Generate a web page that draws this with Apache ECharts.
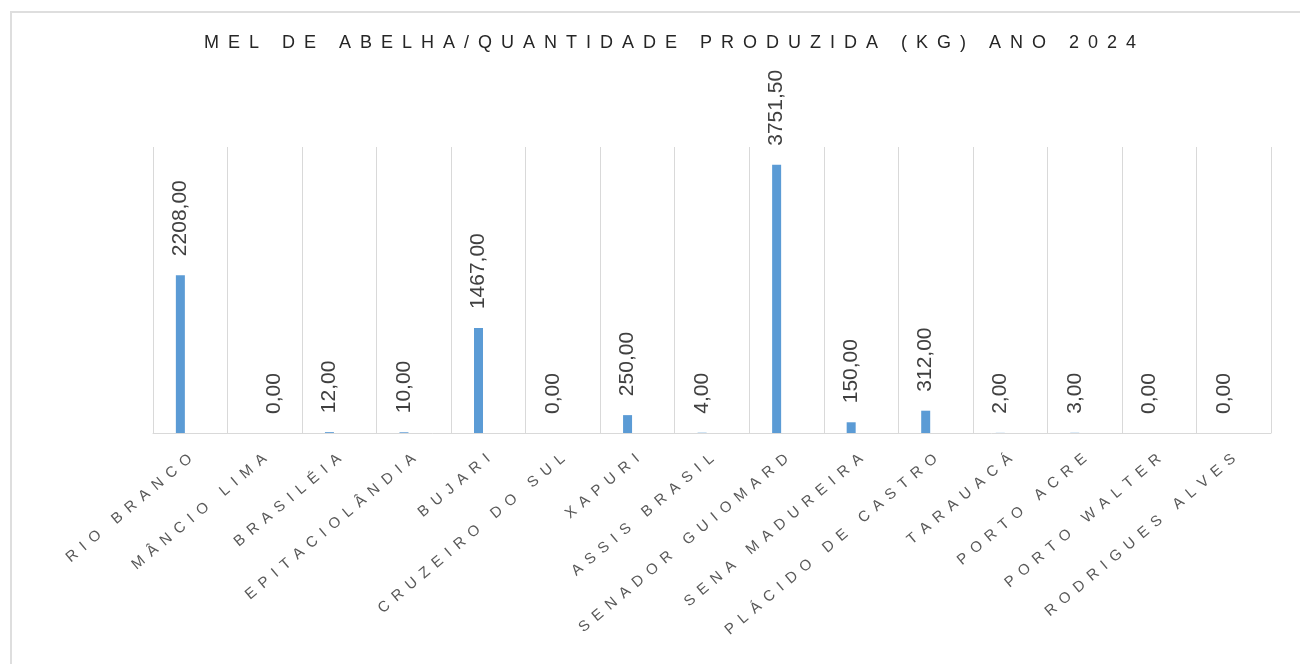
<!DOCTYPE html>
<html>
<head>
<meta charset="utf-8">
<script src="https://cdn.jsdelivr.net/npm/echarts@6/dist/echarts.min.js"></script>
<style>
  html, body { margin: 0; padding: 0; background: #ffffff; }
  #chart { width: 1300px; height: 664px; }
</style>
</head>
<body>
<div id="chart"></div>
<script>
const titleText = 'MEL DE ABELHA/QUANTIDADE PRODUZIDA (KG) ANO 2024';
const categories = ['RIO BRANCO', 'MÂNCIO LIMA', 'BRASILÉIA', 'EPITACIOLÂNDIA', 'BUJARI', 'CRUZEIRO DO SUL', 'XAPURI', 'ASSIS BRASIL', 'SENADOR GUIOMARD', 'SENA MADUREIRA', 'PLÁCIDO DE CASTRO', 'TARAUACÁ', 'PORTO ACRE', 'PORTO WALTER', 'RODRIGUES ALVES'];
const valuesA = [2208.00, null, 12.00, 10.00, 1467.00, 0.00, 250.00, 4.00, 3751.50, 150.00, 312.00, 2.00, 3.00, 0.00, 0.00];
const valuesB = [null, 0.00, null, null, null, null, null, null, null, null, null, null, null, null, null];

const fmtBR = v => v.toFixed(2).replace('.', ',');

const labelCfg = {
  show: true,
  position: 'top',
  distance: 19,
  rotate: 90,
  align: 'left',
  verticalAlign: 'middle',
  fontFamily: '"Liberation Sans", Arial, sans-serif',
  fontSize: 21,
  color: '#404040',
  formatter: p => (p.value === null || p.value === undefined) ? '' : fmtBR(p.value)
};

const chart = echarts.init(document.getElementById('chart'));
chart.setOption({
  animation: false,
  backgroundColor: '#ffffff',
  graphic: [
    {
      type: 'rect',
      z: -10,
      shape: { x: 11, y: 12, width: 1300, height: 700 },
      style: { fill: 'none', stroke: '#dedede', lineWidth: 2 }
    },
    {
      type: 'text',
      x: 670, y: 43,
      style: {
        text: titleText.split('').join('\u2002'),
        align: 'center',
        verticalAlign: 'middle',
        fontFamily: '"Liberation Sans", Arial, sans-serif',
        fontSize: 18,
        fill: '#262626'
      }
    }
  ],
  grid: { left: 153, right: 29, top: 147, bottom: 231, containLabel: false },
  xAxis: {
    type: 'category',
    data: categories,
    axisLine: { show: true, lineStyle: { color: '#d9d9d9', width: 1 } },
    axisTick: { show: false },
    splitLine: { show: true, lineStyle: { color: '#d9d9d9', width: 1 } },
    axisLabel: {
      interval: 0,
      rotate: 40,
      margin: 24,
      fontFamily: '"Liberation Sans", Arial, sans-serif',
      fontSize: 15,
      color: '#595959',
      formatter: v => v.split('').join(' \u2009')
    }
  },
  yAxis: {
    type: 'value',
    min: 0,
    max: 4000,
    show: false,
    splitLine: { show: false }
  },
  series: [
    {
      name: 'A',
      type: 'bar',
      data: valuesA,
      barWidth: 9,
      barGap: '120%',
      itemStyle: { color: '#5b9bd5' },
      label: labelCfg
    },
    {
      name: 'B',
      type: 'bar',
      data: valuesB,
      barWidth: 9,
      itemStyle: { color: '#ed7d31' },
      label: labelCfg
    }
  ]
});
</script>
</body>
</html>
